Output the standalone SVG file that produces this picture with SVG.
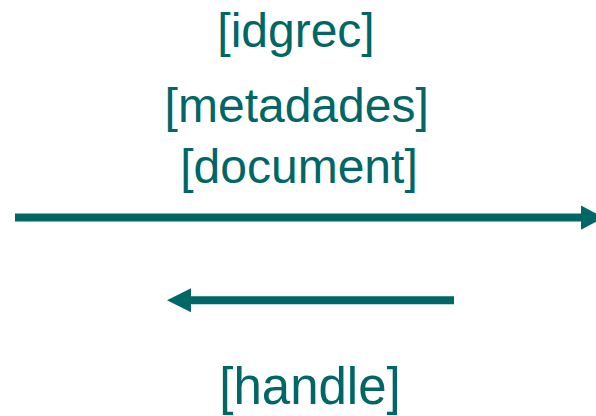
<svg xmlns="http://www.w3.org/2000/svg" width="596" height="416" viewBox="0 0 596 416">
<style>
.lbl{font-family:"Liberation Sans",Arial,sans-serif;fill:#006666;text-anchor:middle}
.ln{stroke:#006666;stroke-width:8;fill:none}
.hd{fill:#006666}
</style>
<rect width="596" height="416" fill="#ffffff"/>
<g id="label-idgrec"><text class="lbl" x="296" y="47" font-size="48">[idgrec]</text></g>
<g id="label-metadades"><text class="lbl" x="296.7" y="121.7" font-size="48">[metadades]</text></g>
<g id="label-document"><text class="lbl" x="299" y="182.7" font-size="48">[document]</text></g>
<g id="label-handle"><text class="lbl" x="310" y="404" font-size="51">[handle]</text></g>
<g id="connectors">
<line class="ln" x1="15" y1="217.6" x2="582" y2="217.6"/>
<polygon class="hd" points="581,205.5 604,217.6 581,229.7"/>
<line class="ln" x1="454" y1="300.3" x2="190" y2="300.3"/>
<polygon class="hd" points="191,288.3 167,300.3 191,312.3"/>
</g>
</svg>
